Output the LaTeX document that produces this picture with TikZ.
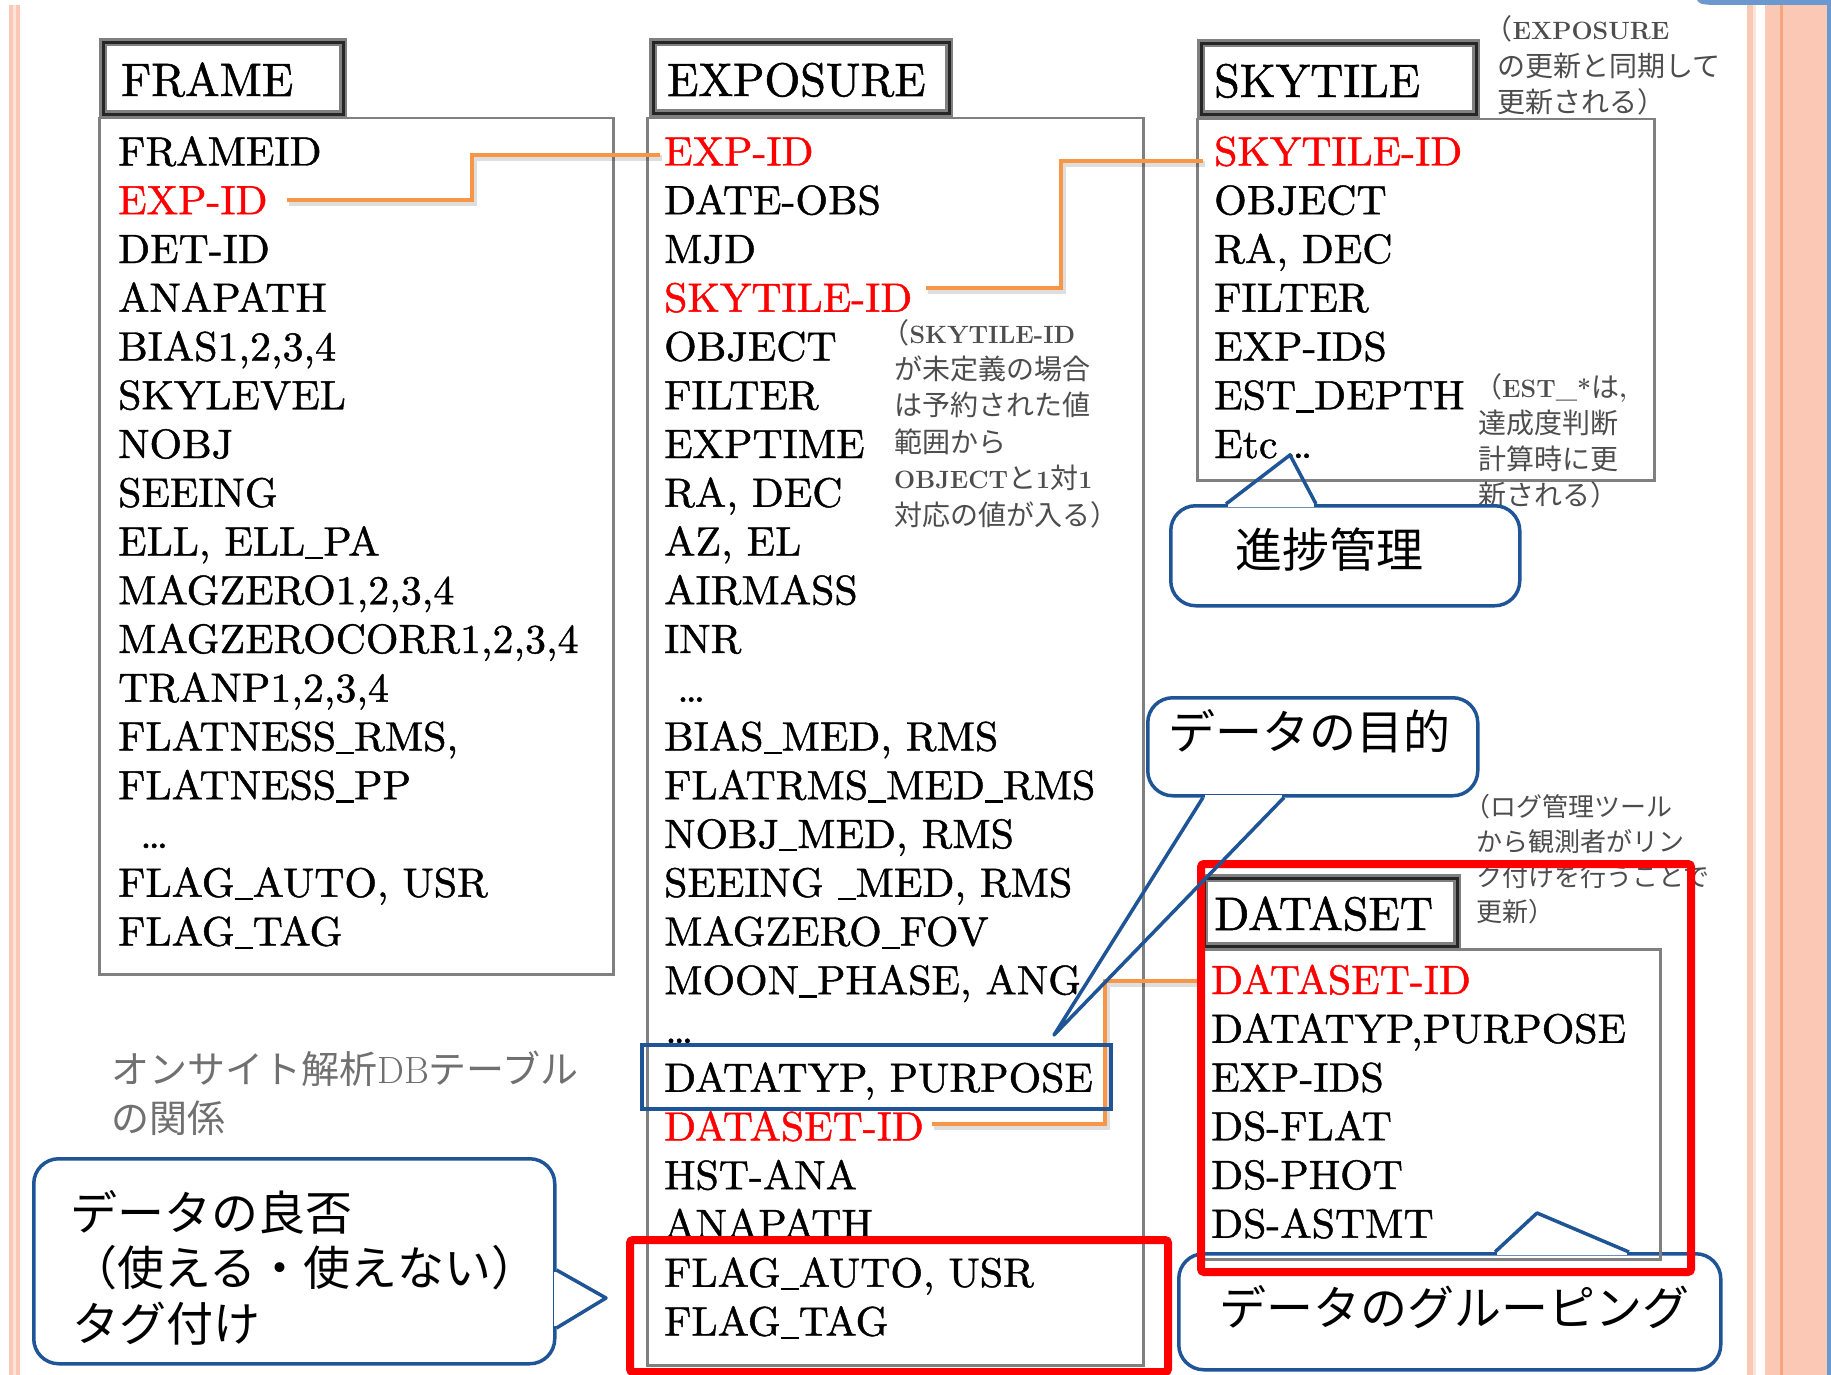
\documentclass[tikz,border=0pt]{standalone}
\usepackage{fontspec}
\newfontfamily\jp{Noto Sans CJK JP}
\newfontfamily\tblfont{lmroman10-regular.otf}[FakeBold=1.1,FakeStretch=1.02]
\newfontfamily\hdrfont{lmroman10-regular.otf}[FakeBold=1.1,FakeStretch=0.98]
\definecolor{idred}{HTML}{FF0000}
\definecolor{conncol}{HTML}{F79646}
\definecolor{cblue}{HTML}{1F5597}
\definecolor{bordergray}{HTML}{808080}
\definecolor{salmon}{HTML}{FAC8B4}
\definecolor{salmonlt}{HTML}{FDE4D9}
\definecolor{salmondk}{HTML}{F5A67F}
\definecolor{edgeblue}{HTML}{6A98CF}
\definecolor{notegray}{HTML}{4D4D4D}
\definecolor{capgray}{HTML}{707070}
\newcommand\fsz{\tblfont\fontsize{41}{48}\selectfont}
\newcommand\hsz{\hdrfont\fontsize{47}{52}\selectfont}
\newcommand\nsz{\jp\fontsize{28}{34}\selectfont}
\newcommand\lt[1]{{\rmfamily\bfseries\fontsize{25}{30}\selectfont #1}}
\newcommand\rd[1]{\textcolor{idred}{#1}}
\newcommand\lp{\hspace*{-0.45em}（}
\newcommand\us{\rule[-0.08em]{0.44em}{0.05em}}
\begin{document}
\begin{tikzpicture}[x=1pt,y=-1pt,
  fld/.style={anchor=base west,inner sep=0pt,font=\fsz,text=black},
  hdrbox/.style={anchor=north west,draw=bordergray,line width=2.5pt,double=black!85,double distance=3pt,fill=white,inner sep=0pt},
  hdrtxt/.style={anchor=base west,inner sep=0pt,font=\hsz,text=black},
  bodybox/.style={anchor=north west,draw=bordergray,line width=2.5pt,inner sep=0pt},
  note/.style={anchor=base west,inner sep=0pt,font=\nsz,text=notegray},
  cbox/.style={anchor=north west,draw=cblue,line width=3.5pt,fill=white,rounded corners=25pt,inner sep=0pt},
  cline/.style={draw=cblue,line width=3.5pt,line join=round},
  ctext/.style={inner sep=0pt,font=\jp\fontsize{47}{56}\selectfont,text=black},
  conn/.style={draw=conncol,line width=4pt,preaction={draw=black,draw opacity=0.13,line width=6pt,transform canvas={xshift=2pt,yshift=-3pt}}},
  redbox/.style={anchor=north west,draw=idred,line width=8pt,rounded corners=3pt,inner sep=0pt},
  bluebox/.style={anchor=north west,draw=cblue,line width=3.5pt,inner sep=0pt}]

% page
\fill[white] (0,0) rectangle (1831,1375);
\path[use as bounding box] (0,0) rectangle (1831,1375);

% slide decoration
\fill[salmon] (9,5) rectangle (12.5,1375);
\fill[salmonlt] (12.5,5) rectangle (16,1375);
\fill[salmon] (16,5) rectangle (20,1375);
\fill[salmon] (1747,5) rectangle (1753,1375);
\fill[salmonlt] (1753,5) rectangle (1756,1375);
\fill[salmon] (1765,5) rectangle (1780,1375);
\fill[salmondk] (1780,5) rectangle (1783,1375);
\fill[salmon] (1783,5) rectangle (1827,1375);
\fill[edgeblue] (1827,0) rectangle (1831,1375);
\fill[edgeblue] (1697,0) .. controls (1700,4) .. (1712,5) -- (1831,5) -- (1831,0) -- cycle;

% callout 4 (behind the DATASET table)
\node[cbox,minimum width=542pt,minimum height=116pt] (c4) at (1177,1252) {};
\coordinate (c4tip) at (1537,1213);
\fill[white] ([xshift=320pt,yshift=3pt]c4.north west) rectangle ([xshift=450pt,yshift=-3pt]c4.north west);
\draw[cline] ([xshift=318pt]c4.north west) -- (c4tip) -- ([xshift=452pt]c4.north west);
\node[ctext] (c4t) at (1454,1307) {データのグルーピング};

% table bodies
\node[bodybox,minimum width=514pt,minimum height=856pt] (frame-b) at (98,117) {};
\node[bodybox,minimum width=496pt,minimum height=1247pt] (exp-b) at (646,117) {};
\node[bodybox,minimum width=457pt,minimum height=361pt] (sky-b) at (1196,118) {};
\node[bodybox,minimum width=460pt,minimum height=310pt] (ds-b) at (1199,948) {};

% headers
\node[hdrbox,minimum width=240pt,minimum height=72pt] (frame-h) at (102,41) {};
\node[hdrtxt] (frame-t) at (121,96) {FRAME};
\node[hdrbox,minimum width=296pt,minimum height=71pt] (exp-h) at (652,41) {};
\node[hdrtxt] (exp-t) at (667,96) {EXPOSURE};
\node[hdrbox,minimum width=275pt,minimum height=71pt] (sky-h) at (1200,42) {};
\node[hdrtxt] (sky-t) at (1214,97) {SKYTILE};
\node[hdrbox,minimum width=253pt,minimum height=68pt] (ds-h) at (1203,877) {};
\node[hdrtxt] (ds-t) at (1214,930) {DATASET};

% fields
\foreach \ft [count=\i from 0] in {FRAMEID,\rd{EXP-ID},DET-ID,ANAPATH,{BIAS1,2,3,4},SKYLEVEL,NOBJ,SEEING,{ELL, ELL\us PA},{MAGZERO1,2,3,4},{MAGZEROCORR1,2,3,4},{TRANP1,2,3,4},{FLATNESS\us RMS,},FLATNESS\us PP,\hspace*{22pt}…,{FLAG\us AUTO, USR},FLAG\us TAG}
  \node[fld] (f-\i) at (118,{165.5+48.75*\i}) {\ft};
\foreach \ft [count=\i from 0] in {\rd{EXP-ID},DATE-OBS,MJD,\rd{SKYTILE-ID},OBJECT,FILTER,EXPTIME,{RA, DEC},{AZ, EL},AIRMASS,INR,\hspace*{13pt}…,{BIAS\us MED, RMS},FLATRMS\us MED\us RMS,{NOBJ\us MED, RMS},{SEEING \us MED, RMS},MAGZERO\us FOV,{MOON\us PHASE, ANG},\hspace*{1pt}…,{DATATYP, PURPOSE},\rd{DATASET-ID},HST-ANA,ANAPATH,{FLAG\us AUTO, USR},FLAG\us TAG}
  \node[fld] (e-\i) at (664,{165.5+48.75*\i}) {\ft};
\foreach \ft [count=\i from 0] in {\rd{SKYTILE-ID},OBJECT,{RA, DEC},FILTER,EXP-IDS,EST\us DEPTH,Etc\,…}
  \node[fld] (s-\i) at (1214,{165.5+48.75*\i}) {\ft};
\foreach \ft [count=\i from 0] in {\rd{DATASET-ID},{DATATYP,PURPOSE},EXP-IDS,DS-FLAT,DS-PHOT,DS-ASTMT}
  \node[fld] (d-\i) at (1211,{994+48.75*\i}) {\ft};

% notes
\foreach \ft [count=\i from 0] in {\lp\lt{SKYTILE-ID},が未定義の場合,は予約された値,範囲から,\lt{OBJECT}と\lt{1}対\lt{1},対応の値が入る）}
  \node[note] (n1-\i) at (894,{343+36.4*\i}) {\ft};
\foreach \ft [count=\i from 0] in {\lp\lt{EXPOSURE},の更新と同期して,更新される）}
  \node[note] (n2-\i) at (1497,{40+36.5*\i}) {\ft};
\node[note] (n3-0) at (1474,397) {（\lt{EST\_*}は\lt{,}};
\foreach \ft [count=\i from 1] in {達成度判断,計算時に更,新される）}
  \node[note] (n3-\i) at (1478,{397+36*\i}) {\ft};
\foreach \ft [count=\i from 0] in {\lp ログ管理ツール,から観測者がリン,ク付けを行うことで,更新）}
  \node[note,font=\jp\fontsize{26}{32}\selectfont] (n4-\i) at (1476,{816+35.3*\i}) {\ft};

% caption
\node[anchor=base west,inner sep=0pt,font=\jp\fontsize{38}{48}\selectfont,text=capgray] (cap1) at (111,1083) {オンサイト解析{\rmfamily DB}テーブル};
\node[anchor=base west,inner sep=0pt,font=\jp\fontsize{38}{48}\selectfont,text=capgray] (cap2) at (111,1132) {の関係};

% key connectors
\draw[conn] ([xshift=19pt]f-1.east) -| ([xshift=-192pt,yshift=-4pt]e-0.west) -- ([xshift=-4pt,yshift=-4pt]e-0.west);
\draw[conn] ([xshift=14pt,yshift=10pt]e-3.east) -| ([xshift=-153pt,yshift=-10pt]s-0.west) -- ([xshift=-11pt,yshift=-10pt]s-0.west);
\draw[conn] ([xshift=8pt,yshift=2pt]e-20.east) -| ([xshift=-106pt,yshift=-1pt]d-0.west) -- ([xshift=-8pt,yshift=-1pt]d-0.west);

% highlight boxes
\node[bluebox,minimum width=469pt,minimum height=64pt] (dt-box) at (640,1043) {};
\node[redbox,minimum width=538pt,minimum height=132pt] (flag-box) at (626,1236) {};
\node[redbox,minimum width=490pt,minimum height=408pt] (ds-box) at (1197,860) {};

% callout 1
\node[cbox,minimum width=349pt,minimum height=100pt] (c1) at (1169,504) {};
\coordinate (c1tip) at (1290,455);
\fill[white] ([xshift=59pt,yshift=3pt]c1.north west) rectangle ([xshift=145pt,yshift=-3pt]c1.north west);
\draw[cline] ([xshift=57pt]c1.north west) -- (c1tip) -- ([xshift=147pt]c1.north west);
\node[ctext] (c1t) at (1329,550) {進捗管理};

% callout 2
\node[cbox,minimum width=330pt,minimum height=98pt] (c2) at (1146,696) {};
\coordinate (c2tip) at (1054,1035);
\fill[white] ([xshift=59pt,yshift=3pt]c2.south west) rectangle ([xshift=136pt,yshift=-3pt]c2.south west);
\draw[cline] ([xshift=57pt]c2.south west) -- (c2tip) -- ([xshift=138pt]c2.south west);
\node[ctext] (c2t) at (1309,731) {データの目的};

% callout 3
\node[cbox,minimum width=521pt,minimum height=205pt] (c3) at (32,1157) {};
\coordinate (c3tip) at (606,1298);
\fill[white] ([xshift=-3pt,yshift=-115pt]c3.north east) rectangle ([xshift=3pt,yshift=-169pt]c3.north east);
\draw[cline] ([yshift=-113pt]c3.north east) -- (c3tip) -- ([yshift=-171pt]c3.north east);
\node[ctext,anchor=west] (c3a) at (70,1212) {データの良否};
\node[ctext,anchor=west] (c3b) at (70,1268) {（使える・使えない）};
\node[ctext,anchor=west] (c3c) at (72,1324) {タグ付け};
\end{tikzpicture}
\end{document}
